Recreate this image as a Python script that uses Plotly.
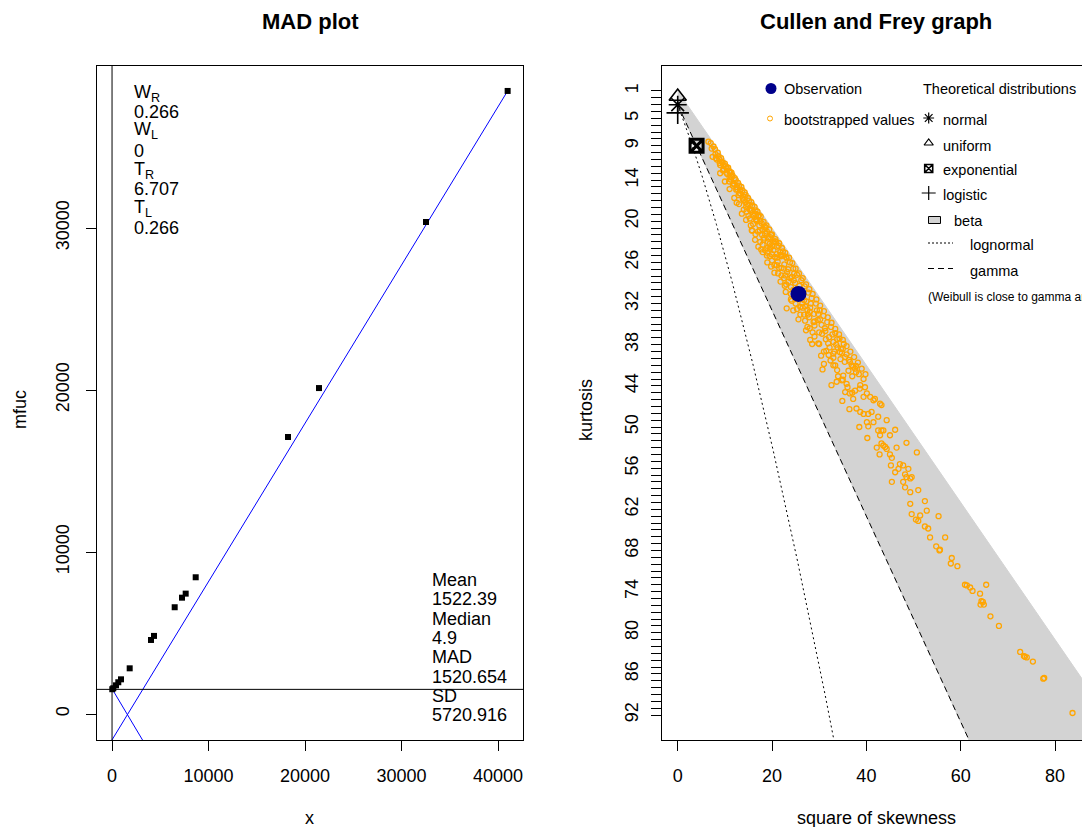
import numpy as np
import plotly.graph_objects as go

W, H = 1082, 827
FONT = "Liberation Sans, Arial, sans-serif"

# ---------------- MAD plot data ----------------
mad_x = [30, 135, 415, 653, 933, 1834, 4041, 4352, 6497, 7254, 7637, 8674, 18240, 21450, 32540, 41000]
mad_y = [1530, 1590, 1770, 1960, 2140, 2820, 4570, 4820, 6590, 7180, 7430, 8440, 17100, 20120, 30370, 38460]
mad_value = 1520.654
median_value = 4.9
lineA_x = [-100, 41000]
lineA_y = [-1698, 38460]
lineB_x = [30, 3400]
lineB_y = [1530, -1840]
w_labels = ["W<sub>R</sub>", "0.266", "W<sub>L</sub>", "0", "T<sub>R</sub>", "6.707", "T<sub>L</sub>", "0.266"]
s_labels = ["Mean", "1522.39", "Median", "4.9", "MAD", "1520.654", "SD", "5720.916"]
mad_xticks = [0, 10000, 20000, 30000, 40000]
mad_yticks = [0, 10000, 20000, 30000]

# ---------------- Cullen and Frey data ----------------
obs_s2 = [25.6]
obs_kurt = [30.6]
kurtmax = 92
cf_xticks = [0, 20, 40, 60, 80]
cf_ytick_labels = [1, 5, 9, 14, 20, 26, 32, 38, 44, 50, 56, 62, 68, 74, 80, 86, 92]

boot_s2 = [
    6.5, 7.6, 7.4, 8.6, 9.3, 9.7, 10.4, 11.1, 11.4, 10.9, 11.8, 12.5, 13.2, 12.9, 13.9, 14.3, 15.0, 15.7, 14.6, 16.4,
    17.1, 16.7, 15.3, 17.8, 18.5, 17.4, 15.7, 18.9, 19.6, 18.2, 16.4, 20.3, 21.0, 19.6, 17.1, 21.7, 22.4, 20.6, 23.1, 18.9,
    8.0, 8.3, 8.8, 9.0, 9.5, 9.8, 10.2, 10.5, 10.9, 11.2, 11.6, 12.0, 12.3, 12.6, 13.0, 13.3, 13.7, 14.0, 14.4, 14.7,
    15.1, 15.4, 15.8, 16.1, 16.5, 16.8, 17.2,
    17.5, 18.0, 18.6, 19.2, 19.8, 20.1, 20.6, 21.0, 21.4, 21.9, 22.3, 22.6, 23.0, 23.4, 23.8, 24.2, 24.5, 24.9, 25.3, 25.8,
    26.2, 26.5, 26.9, 27.3, 27.7, 28.1, 28.4, 28.9, 29.3, 29.7, 30.1, 30.5, 30.9, 31.3, 31.7, 32.1, 32.5, 33.0, 33.4, 33.9,
    34.3, 34.8, 35.2,
    20.5, 21.8, 22.9, 23.1, 24.0, 25.6, 26.8, 27.5, 28.6, 29.8, 30.4, 31.5, 32.4, 33.8, 26.0, 27.9, 24.5, 29.0, 31.0, 28.1,
    19.0, 18.0,
    18.3, 19.5, 20.9, 21.2, 22.0, 23.5, 24.7, 25.1, 26.0, 27.0, 28.0, 29.5, 30.0, 31.9, 33.2, 34.5,
    19.0, 20.0, 21.5, 22.8, 24.0, 25.0, 26.4, 27.6, 28.8, 30.2, 31.2, 32.8, 33.6, 35.0, 35.8, 36.3, 36.9, 37.2, 37.8, 38.4,
    33.0, 34.4, 35.5, 36.5, 37.6, 33.4, 35.1, 33.7, 35.8, 34.8, 35.5, 36.5, 37.6, 38.7, 39.4, 39.7, 40.1, 40.8, 41.5, 41.8,
    42.9, 43.2, 37.2, 37.9, 38.7, 39.4, 40.4, 41.1, 40.1, 41.5, 42.5, 44.3, 38.5, 40.4, 42.5, 43.2, 43.6, 45.0, 46.1, 40.2,
    42.9, 43.2, 43.6, 44.0, 42.2, 44.3, 46.4, 48.5, 50.7, 42.8, 45.0, 45.4, 47.1, 46.8, 47.8, 48.9, 45.2, 46.1, 48.2, 48.5,
    49.3, 49.6, 45.4, 47.8, 48.2, 49.3, 51.0,
    49.3, 52.4, 49.6, 51.4, 52.8, 55.3, 50.5, 51.0, 52.4, 53.1, 53.5, 56.7, 54.8, 55.5, 55.6, 58.1, 57.9, 59.3, 60.9, 61.3,
    62.0, 62.5, 64.1, 65.4, 64.4, 64.2, 64.9, 64.7, 66.3, 68.1, 72.6, 73.4, 74.0, 73.6, 75.3, 77.5, 77.7, 83.7,
]
boot_kurt = [
    8.4, 9.1, 10.6, 10.5, 11.3, 11.8, 12.3, 12.8, 13.5, 14.2, 14.5, 15.0, 15.4, 16.2, 16.4, 17.2, 17.6, 18.4, 18.6, 18.9,
    19.3, 19.8, 19.6, 20.3, 20.8, 21.3, 21.3, 21.5, 22.3, 22.7, 22.7, 23.0, 23.7, 24.0, 23.7, 24.5, 25.0, 25.2, 25.4, 25.0,
    10.2, 11.0, 10.9, 11.8, 11.4, 12.4, 12.0, 13.1, 12.7, 13.9, 13.3, 14.6, 14.0, 15.3, 14.8, 16.0, 15.5, 16.9, 16.2, 17.5,
    17.0, 18.4, 17.7, 19.2, 18.4, 20.0, 19.1,
    20.0, 21.2, 21.0, 22.5, 22.0, 23.6, 22.9, 24.8, 23.6, 25.1, 24.4, 26.3, 25.2, 27.0, 26.0, 28.1, 26.9, 29.0, 27.8, 29.4,
    28.6, 30.8, 29.5, 31.7, 30.4, 32.6, 31.2, 33.5, 32.0, 34.4, 33.0, 35.1, 33.8, 36.0, 34.7, 36.9, 35.4, 37.6, 36.3, 38.4,
    37.1, 39.2, 37.9,
    27.5, 28.8, 30.3, 32.7, 31.4, 34.3, 33.6, 35.4, 36.2, 37.8, 39.6, 38.9, 40.3, 41.7, 32.5, 34.0, 33.0, 35.2, 40.8, 37.3,
    26.0, 24.5,
    22.4, 23.3, 23.0, 25.9, 26.8, 28.8, 27.6, 30.2, 31.0, 32.4, 33.2, 33.0, 36.2, 37.8, 39.0, 40.1,
    23.9, 24.8, 26.8, 27.9, 29.6, 31.3, 32.0, 33.6, 34.7, 34.3, 35.6, 36.5, 38.0, 38.6, 39.4, 40.2, 41.0, 41.2, 42.0, 42.3,
    39.3, 39.1, 39.8, 40.5, 41.5, 41.0, 42.5, 43.4, 43.7, 43.2, 44.9, 45.1, 44.7, 43.9, 43.0, 44.2, 45.1, 45.6, 46.1, 45.9,
    46.6, 46.8, 45.9, 47.3, 47.8, 48.1, 48.1, 47.8, 49.3, 49.3, 48.5, 49.0, 50.0, 49.9, 50.5, 50.5, 50.5, 51.2, 50.4, 51.6,
    51.2, 52.4, 52.7, 52.9, 53.0, 53.2, 53.0, 52.3, 53.7, 54.0, 54.0, 54.5, 55.4, 56.1, 55.6, 56.1, 55.6, 56.6, 56.9, 57.3,
    57.5, 57.3, 58.0, 58.0, 58.8, 59.5, 59.2,
    61.2, 60.8, 62.7, 62.9, 62.2, 63.0, 63.5, 63.7, 64.5, 64.8, 66.1, 66.1, 67.4, 68.0, 67.9, 69.1, 69.9, 70.3, 73.0, 73.1,
    73.4, 73.9, 74.3, 73.0, 75.4, 75.9, 75.9, 75.5, 77.6, 79.0, 82.8, 83.4, 83.6, 83.5, 84.2, 86.7, 86.6, 91.7,
]
boot_dense_s2 = [
    7.0, 7.2, 7.9, 8.1, 8.5, 8.9, 9.2, 9.6, 10.0, 10.3, 10.7, 11.0, 11.4, 11.7, 12.1, 12.4, 12.8, 13.1, 13.5, 13.8,
    14.2, 14.5, 14.9, 15.2, 15.6, 15.9, 16.3, 16.6,
    16.9, 17.3, 17.6, 17.9, 18.2, 18.5, 18.8, 19.1, 19.4, 19.7, 20.0, 20.3, 20.7, 21.1, 21.5, 21.8, 22.1, 22.5, 22.8, 23.2,
    23.6, 23.9, 24.3, 24.6, 25.0, 25.4, 25.7, 26.1,
    26.5, 26.8, 27.2, 27.5, 27.9, 28.2, 28.6, 29.0, 29.4, 29.8, 30.2, 30.6, 31.0, 31.4, 31.8, 32.2, 32.6, 33.0, 33.4, 33.8,
    34.2, 34.6, 35.0, 35.4, 35.8, 36.2, 36.6, 37.0, 37.4, 37.8, 38.2, 38.6, 39.0, 39.4, 39.8,
    14.0, 15.0, 16.0, 17.0, 18.0, 19.0, 20.0, 21.0, 22.0, 23.0, 24.0, 25.0, 26.0, 27.0, 28.0, 29.0, 30.0, 31.0, 32.0, 33.0,
    34.0, 35.0, 36.0, 37.0, 24.5, 22.5, 20.5, 26.5,
    9.0, 10.0, 11.0, 12.0, 13.0, 14.5, 15.5, 16.5, 17.5, 18.5, 19.5, 12.5, 13.6, 15.8, 17.7, 19.8, 21.3, 22.7, 24.2, 25.3,
    27.2, 28.5, 30.7, 32.6, 34.9, 36.4,
]
boot_dense_kurt = [
    8.6, 9.4, 9.5, 10.8, 10.0, 11.5, 10.8, 12.6, 11.6, 12.9, 12.2, 13.6, 12.9, 14.8, 13.7, 15.4, 14.4, 15.9, 15.0, 16.7,
    15.8, 17.9, 16.6, 18.2, 17.2, 19.0, 17.9, 19.7,
    18.6, 20.6, 19.3, 22.0, 20.1, 21.8, 20.6, 23.0, 21.2, 23.8, 21.9, 24.2, 22.6, 25.3, 23.2, 24.9, 23.9, 26.9, 24.6, 27.4,
    25.3, 28.3, 26.1, 28.6, 26.9, 29.9, 27.6, 30.3,
    28.3, 31.5, 29.2, 32.9, 29.9, 32.0, 30.6, 34.6, 31.4, 33.5, 32.3, 36.4, 33.1, 37.2, 34.0, 38.4, 34.8, 39.9, 35.7, 37.2,
    36.5, 38.6, 37.3, 40.5, 38.2, 41.8, 39.0, 42.6, 39.8, 41.1, 40.6, 44.4, 41.5, 45.6, 42.3,
    18.3, 19.2, 20.4, 21.5, 23.4, 24.6, 25.7, 26.4, 27.9, 29.2, 30.6, 32.0, 33.6, 34.5, 35.6, 36.8, 37.9, 39.0, 39.5, 41.0,
    42.6, 43.1, 44.2, 45.0, 30.0, 28.3, 26.4, 32.6,
    13.0, 14.2, 15.3, 16.6, 17.5, 19.8, 20.6, 21.9, 23.0, 24.2, 25.1, 17.3, 18.9, 21.4, 24.1, 26.6, 27.6, 29.4, 31.6, 32.8,
    35.9, 37.9, 41.6, 43.9, 46.2, 47.4,
]

# theoretical points (normal, uniform, exponential, logistic)
theo_names = ["normal", "uniform", "exponential", "logistic"]
theo_s2 = [0, 0, 4, 0]
theo_kurt = [3, 1.8, 9, 4.2]

# theoretical curves: beta region bounds, gamma line, lognormal curve
w = np.linspace(1.0, 2.7, 300)
lnorm_s2 = (w + 2) ** 2 * (w - 1)
lnorm_kurt = w ** 4 + 2 * w ** 3 + 3 * w ** 2 - 3
gamma_s2 = np.array([0.0, 80.0])
gamma_kurt = 3 + 1.5 * gamma_s2
beta_s2 = [0, 120, 80, 0]
beta_kurt = [1, 121, 123, 3]

# ---------------- helpers ----------------
def PX(x):
    return x / W

def PY(y):
    return 1 - y / H

fig = go.Figure()

# ---- left plot traces ----
fig.add_trace(go.Scatter(x=lineA_x, y=lineA_y, mode="lines", line=dict(color="#0000FF", width=1),
                         xaxis="x", yaxis="y", showlegend=False))
fig.add_trace(go.Scatter(x=lineB_x, y=lineB_y, mode="lines", line=dict(color="#0000FF", width=1),
                         xaxis="x", yaxis="y", showlegend=False))
fig.add_trace(go.Scatter(x=mad_x, y=mad_y, mode="markers",
                         marker=dict(symbol="square", size=6, color="black"),
                         xaxis="x", yaxis="y", showlegend=False))

# ---- right plot traces ----
fig.add_trace(go.Scatter(x=beta_s2, y=beta_kurt, mode="lines", fill="toself",
                         fillcolor="#D3D3D3", line=dict(color="#D3D3D3", width=1),
                         xaxis="x2", yaxis="y2", showlegend=False))
fig.add_trace(go.Scatter(x=lnorm_s2, y=lnorm_kurt, mode="lines",
                         line=dict(color="black", width=1, dash="2px,3px"),
                         xaxis="x2", yaxis="y2", showlegend=False))
fig.add_trace(go.Scatter(x=gamma_s2, y=gamma_kurt, mode="lines",
                         line=dict(color="black", width=1, dash="6px,4px"),
                         xaxis="x2", yaxis="y2", showlegend=False))
fig.add_trace(go.Scatter(x=boot_s2 + boot_dense_s2, y=boot_kurt + boot_dense_kurt, mode="markers",
                         marker=dict(symbol="circle-open", size=5, color="#FFA500", line=dict(width=1.3)),
                         xaxis="x2", yaxis="y2", showlegend=False))
fig.add_trace(go.Scatter(x=obs_s2, y=obs_kurt, mode="markers",
                         marker=dict(symbol="circle", size=16, color="#00008B"),
                         xaxis="x2", yaxis="y2", showlegend=False))
theo_sym = ["asterisk-open", "triangle-up-open", "square-x-open", "cross-thin-open"]
theo_size = [15, 15, 13, 16]
theo_lw = [1.6, 1.6, 3, 1.6]
for i in range(4):
    fig.add_trace(go.Scatter(x=[theo_s2[i]], y=[theo_kurt[i]], mode="markers",
                             marker=dict(symbol=theo_sym[i], size=theo_size[i], color="black",
                                         line=dict(width=theo_lw[i], color="black")),
                             xaxis="x2", yaxis="y2", showlegend=False, cliponaxis=False))

# ---- legend glyphs (overlay pixel axis) ----
leg_x = [771, 770, 928.7, 928.7, 928.7, 928.7]
leg_y = [88.5, 118.5, 118, 143, 168.5, 193]
leg_sym = ["circle", "circle-open", "asterisk-open", "triangle-up-open", "square-x-open", "cross-thin-open"]
leg_size = [11, 5, 9, 8, 8, 10]
leg_col = ["#00008B", "#FFA500", "black", "black", "black", "black"]
leg_lw = [0, 1, 1.2, 1.2, 1.6, 1.2]
for i in range(6):
    fig.add_trace(go.Scatter(x=[leg_x[i]], y=[leg_y[i]], mode="markers",
                             marker=dict(symbol=leg_sym[i], size=leg_size[i], color=leg_col[i],
                                         line=dict(width=leg_lw[i], color=leg_col[i])),
                             xaxis="x3", yaxis="y3", showlegend=False))

axis_common = dict(showline=True, linecolor="black", linewidth=1, ticks="outside", ticklen=10,
                   tickcolor="black", tickwidth=1, showgrid=False, zeroline=False,
                   tickfont=dict(family=FONT, size=18, color="black"))

fig.update_layout(
    width=W, height=H,
    margin=dict(l=0, r=0, t=0, b=0),
    paper_bgcolor="white", plot_bgcolor="rgba(0,0,0,0)",
    xaxis=dict(domain=[PX(97), PX(523)], range=[-1554, 42591], tickmode="array", tickvals=mad_xticks,
               ticktext=[str(v) for v in mad_xticks],
               mirror=True, anchor="y", ticklabelstandoff=9, **axis_common),
    yaxis=dict(domain=[PY(740), PY(66)], range=[-1605, 40000], tickmode="array", tickvals=mad_yticks,
               ticktext=[str(v) for v in mad_yticks],
               mirror=True, anchor="x", tickangle=-90, ticklabelstandoff=10, **axis_common),
    xaxis2=dict(domain=[PX(662), 1.0], range=[-3.33, 85.71], tickmode="array", tickvals=cf_xticks,
                ticktext=[str(v) for v in cf_xticks],
                mirror=True, anchor="y2", ticklabelstandoff=9, **axis_common),
    yaxis2=dict(domain=[PY(740), PY(66)], range=[95.64, -2.64], tickmode="array", tickvals=cf_ytick_labels,
                ticktext=[str(v) for v in cf_ytick_labels],
                anchor="x2", tickangle=-90, ticklabelstandoff=6,
                minor=dict(tickmode="array", tickvals=list(range(1, kurtmax + 1)), ticks="outside",
                           ticklen=10, tickcolor="black", tickwidth=1),
                **axis_common),
    xaxis3=dict(domain=[0, 1], range=[0, W], visible=False, anchor="y3"),
    yaxis3=dict(domain=[0, 1], range=[H, 0], visible=False, anchor="x3"),
)

# reference lines in MAD plot
fig.add_shape(type="line", xref="x domain", yref="y", x0=0, x1=1, y0=mad_value, y1=mad_value,
              line=dict(color="black", width=1))
fig.add_shape(type="line", xref="x", yref="y domain", x0=median_value, x1=median_value, y0=0, y1=1,
              line=dict(color="black", width=1))

# legend shapes
fig.add_shape(type="rect", xref="paper", yref="paper", x0=PX(928.5), x1=PX(940.5), y0=PY(223.5), y1=PY(216.5),
              line=dict(color="black", width=1), fillcolor="#D3D3D3")
fig.add_shape(type="line", xref="paper", yref="paper", x0=PX(928), x1=PX(953), y0=PY(243), y1=PY(243),
              line=dict(color="black", width=1, dash="2px,2px"))
fig.add_shape(type="line", xref="paper", yref="paper", x0=PX(928), x1=PX(953), y0=PY(268.5), y1=PY(268.5),
              line=dict(color="black", width=1, dash="6px,4px"))

ann = []
def text(x, y, s, size=18, xanchor="center", yanchor="middle", angle=0, bold=False):
    if bold:
        s = "<b>" + s + "</b>"
    ann.append(dict(x=PX(x), y=PY(y), xref="paper", yref="paper", text=s, showarrow=False,
                    xanchor=xanchor, yanchor=yanchor, textangle=angle,
                    font=dict(family=FONT, size=size, color="black")))

text(310, 22, "MAD plot", size=22, bold=True)
text(876, 22, "Cullen and Frey graph", size=22, bold=True)
text(309, 818, "x")
text(20, 410, "mfuc", angle=-90)
text(876, 818, "square of skewness")
text(586, 410, "kurtosis", angle=-90)

wy = [93, 112, 131, 151, 170, 189, 208, 228]
for s, y in zip(w_labels, wy):
    text(132, y, s, xanchor="left")
sy = [580, 599, 619, 638, 657, 677, 696, 715]
for s, y in zip(s_labels, sy):
    text(430, y, s, xanchor="left")

LEG = 14.5
text(782, 89.5, "Observation", size=LEG, xanchor="left")
text(782, 120.5, "bootstrapped values", size=LEG, xanchor="left")
text(920.5, 89.5, "Theoretical distributions", size=LEG, xanchor="left")
for nm, y in zip(theo_names, [120.5, 145.5, 170, 195]):
    text(940.5, y, nm, size=LEG, xanchor="left")
text(951.5, 220.5, "beta", size=LEG, xanchor="left")
text(967.5, 245, "lognormal", size=LEG, xanchor="left")
text(967.5, 270.5, "gamma", size=LEG, xanchor="left")
text(925.5, 297, "(Weibull is close to gamma and lognormal)", size=12, xanchor="left")

fig.update_layout(annotations=ann)
fig.write_html("out.html", config={"displayModeBar": False},
               post_script="document.body.style.margin='0';document.body.style.overflow='hidden';")
